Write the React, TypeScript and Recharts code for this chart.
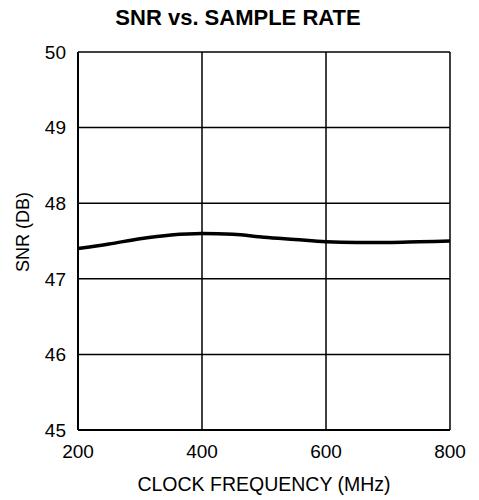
import React from 'react';
import { LineChart, Line, XAxis, YAxis, CartesianGrid, Label } from 'recharts';

const frequencies = [200, 250, 300, 350, 400, 450, 500, 550, 600, 650, 700, 750, 800];
const snrValues = [47.4, 47.46, 47.53, 47.58, 47.6, 47.59, 47.55, 47.52, 47.49, 47.48, 47.48, 47.49, 47.5];
const xTicks = [200, 400, 600, 800];
const yTicks = [45, 46, 47, 48, 49, 50];

const data = frequencies.map((f, i) => ({ freq: f, snr: snrValues[i] }));

const font = '"Liberation Sans", Arial, sans-serif';

const App: React.FC = () => {
  return (
    <div style={{ position: 'absolute', left: 0, top: 0, width: 479, height: 500, background: '#fff', fontFamily: font }}>
      <div
        style={{
          position: 'absolute',
          left: 0,
          width: 476,
          top: 5,
          textAlign: 'center',
          fontWeight: 'bold',
          fontSize: 22,
          color: '#000',
          zIndex: 1,
        }}
      >
        SNR vs. SAMPLE RATE
      </div>
      <LineChart width={479} height={500} data={data} margin={{ top: 52, right: 29, left: 0, bottom: 0 }}>
        <CartesianGrid stroke="#000" strokeWidth={1.5} strokeOpacity={1} />
        <XAxis
          dataKey="freq"
          type="number"
          domain={[200, 800]}
          ticks={xTicks}
          height={70}
          tickLine={false}
          axisLine={{ stroke: '#000', strokeWidth: 2 }}
          tickSize={0}
          tickMargin={15}
          tick={{ fill: '#000', fontSize: 19, fontFamily: font }}
        >
          <Label
            value="CLOCK FREQUENCY (MHz)"
            position="insideBottom"
            offset={9}
            style={{ fill: '#000', fontSize: 19.5, fontFamily: font }}
          />
        </XAxis>
        <YAxis
          type="number"
          domain={[45, 50]}
          ticks={yTicks}
          width={78}
          tickLine={false}
          axisLine={{ stroke: '#000', strokeWidth: 2 }}
          tickSize={0}
          tickMargin={12}
          tick={{ fill: '#000', fontSize: 19, fontFamily: font, dy: 0 }}
        >
          <Label
            content={(props: any) => {
              const vb = props.viewBox || {};
              const cy = (vb.y || 0) + (vb.height || 0) / 2 - 9;
              return (
                <text
                  x={23}
                  y={cy}
                  transform={`rotate(-90, 23, ${cy})`}
                  textAnchor="middle"
                  dominantBaseline="central"
                  style={{ fill: '#000', fontSize: 18, fontFamily: font }}
                >
                  SNR (DB)
                </text>
              );
            }}
          />
        </YAxis>
        <Line
          type="monotone"
          dataKey="snr"
          stroke="#000"
          strokeWidth={3.5}
          dot={false}
          isAnimationActive={false}
        />
      </LineChart>
    </div>
  );
};

export default App;
